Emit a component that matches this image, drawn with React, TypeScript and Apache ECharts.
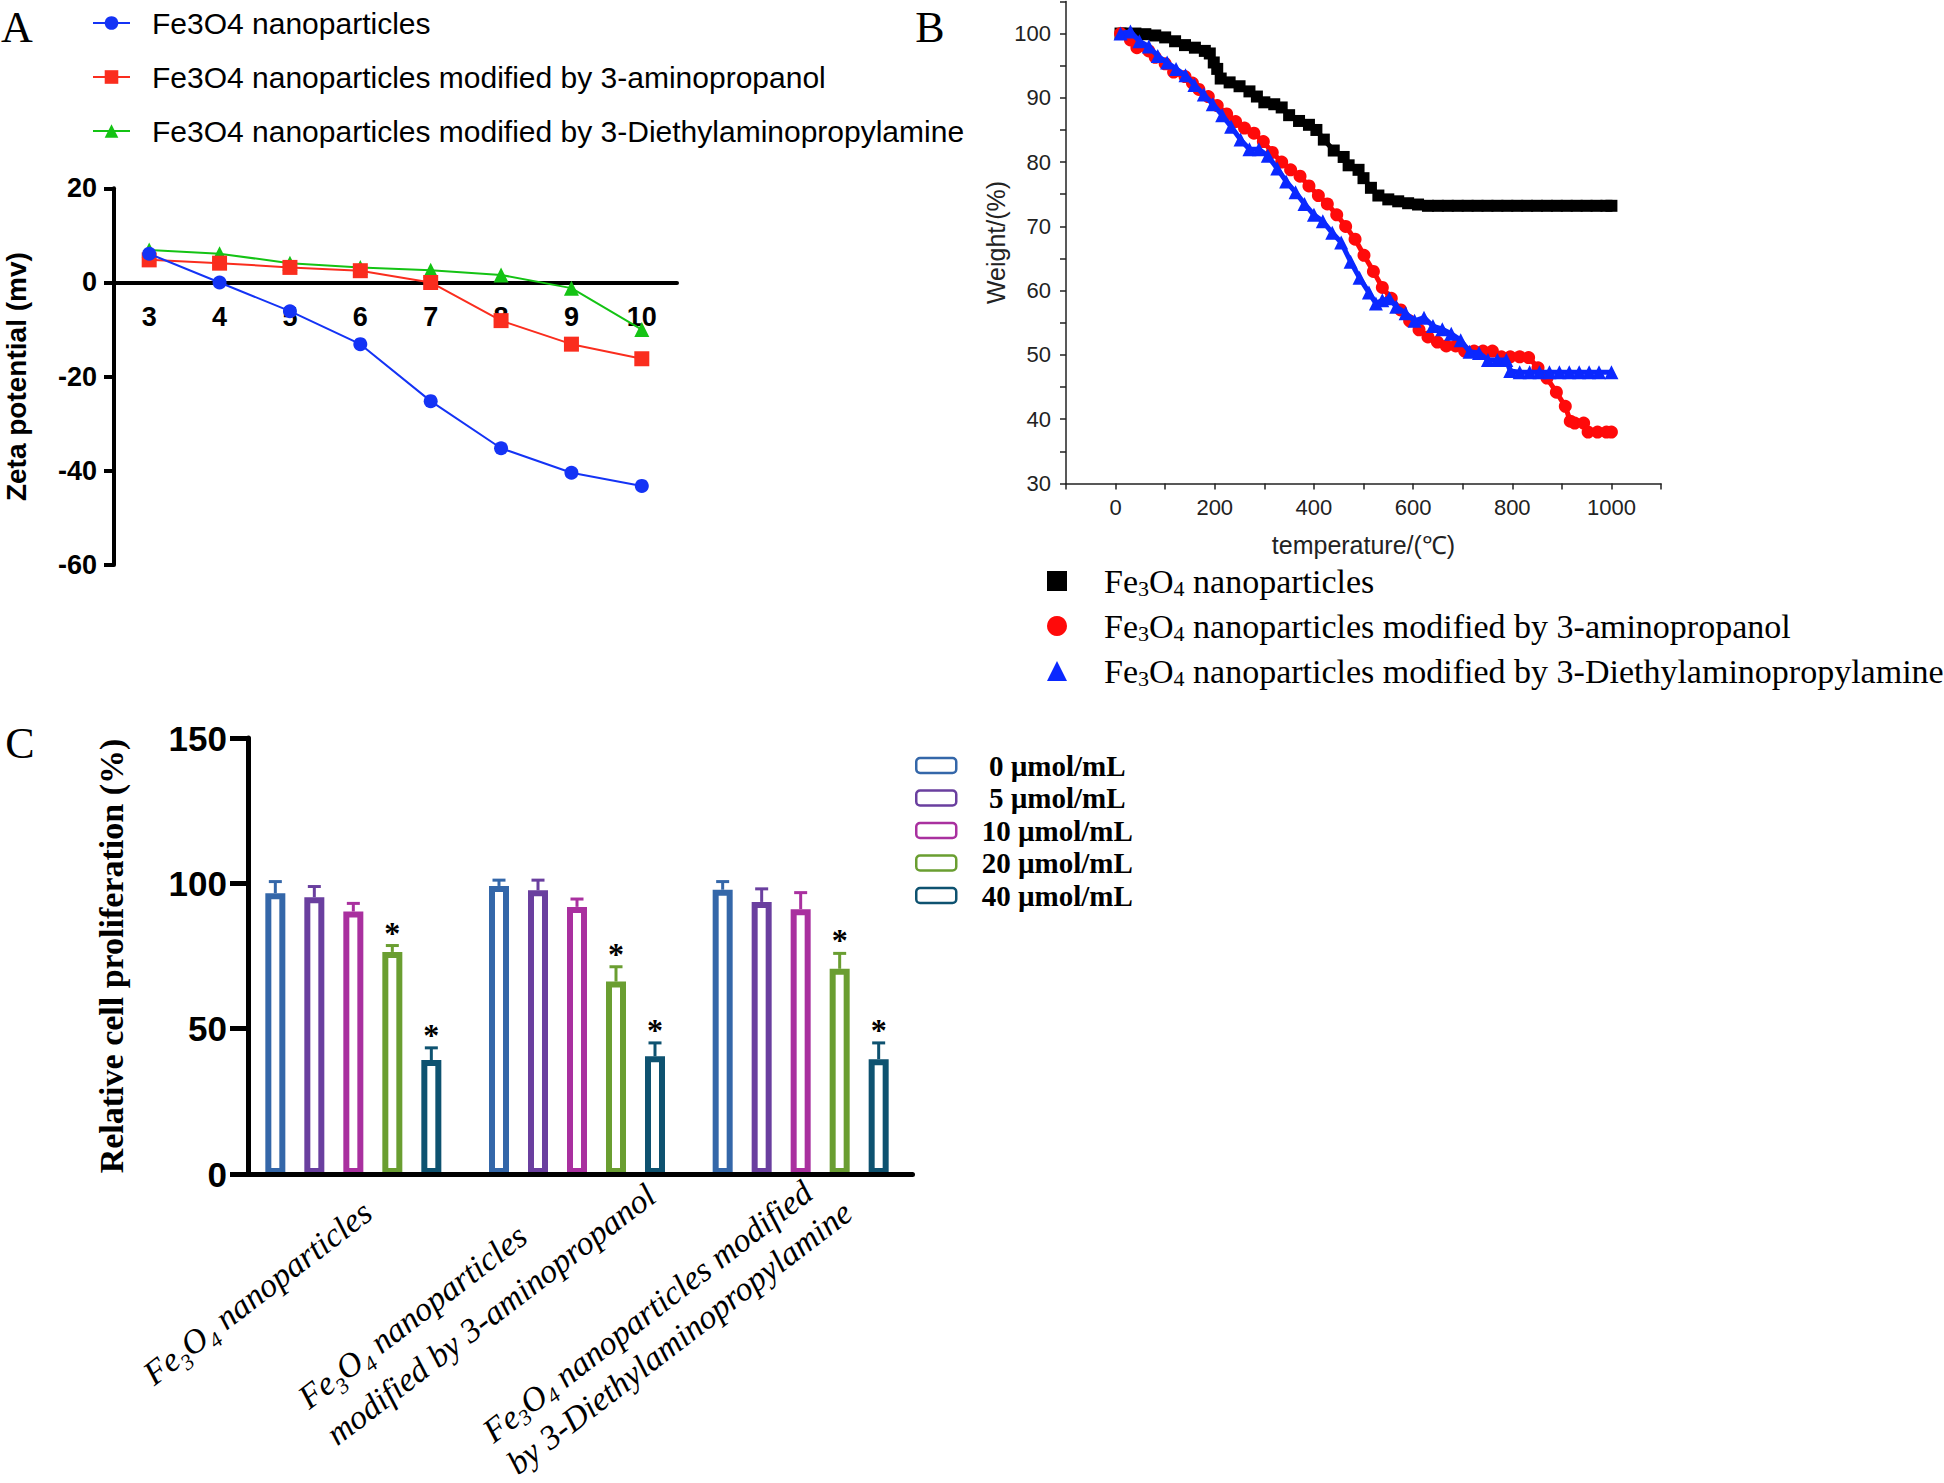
import React, { useEffect, useRef } from 'react';
import * as echarts from 'echarts';

// ---------------- Panel A: zeta potential vs pH ----------------
const phLabels = ['3', '4', '5', '6', '7', '8', '9', '10'];
const zetaBare = [6.1, 0, -6.1, -13.1, -25.2, -35.2, -40.4, -43.2];
const zetaAminopropanol = [4.8, 4.1, 3.2, 2.5, 0, -8.1, -13.1, -16.2];
const zetaDiethyl = [6.9, 6.1, 4.1, 3.2, 2.6, 1.6, -1.2, -10.0];
const zetaNames = [
  'Fe3O4 nanoparticles',
  'Fe3O4 nanoparticles modified by 3-aminopropanol',
  'Fe3O4 nanoparticles modified by 3-Diethylaminopropylamine',
];

// ---------------- Panel B: TGA ----------------
const tgaBareTemp = [10, 20, 40, 60, 80, 100, 120, 140, 160, 180, 190, 198, 205, 212, 230, 250, 270, 285, 300, 320, 335, 350, 370, 390, 405, 420, 440, 460, 470, 490, 500, 515, 530, 550, 570, 590, 610, 630, 650, 670, 690, 710, 730, 750, 770, 790, 810, 830, 850, 870, 890, 910, 930, 950, 970, 990, 1000];
const tgaBareWeight = [100, 100, 100, 99.9, 99.7, 99.4, 98.8, 98.2, 97.8, 97.3, 96.9, 95.5, 94.5, 93.0, 92.4, 91.8, 91.0, 90.2, 89.3, 89.0, 88.5, 87.3, 86.4, 85.8, 85.0, 83.5, 81.8, 80.8, 79.5, 78.8, 77.5, 76.0, 74.8, 74.2, 73.9, 73.6, 73.4, 73.2, 73.2, 73.2, 73.2, 73.2, 73.2, 73.2, 73.2, 73.2, 73.2, 73.2, 73.2, 73.2, 73.2, 73.2, 73.2, 73.2, 73.2, 73.2, 73.2];

const tgaAminoTemp = [10, 30, 43, 67, 80, 100, 117, 140, 155, 168, 187, 205, 224, 242, 260, 279, 298, 316, 335, 353, 372, 390, 409, 427, 446, 464, 483, 501, 520, 538, 556, 575, 593, 612, 630, 649, 667, 686, 704, 723, 741, 760, 778, 796, 815, 833, 852, 870, 889, 907, 917, 926, 944, 953, 972, 990, 1000];
const tgaAminoWeight = [100, 99.0, 97.8, 97.3, 96.3, 95.3, 94.0, 93.3, 92.3, 91.3, 90.2, 88.8, 87.5, 86.3, 85.3, 84.5, 83.2, 81.5, 80.0, 78.8, 77.8, 76.3, 74.8, 73.5, 71.8, 70.0, 68.0, 65.5, 63.0, 60.5, 58.8, 57.0, 55.3, 53.9, 52.8, 52.0, 51.4, 51.4, 50.6, 50.6, 50.6, 50.6, 49.7, 49.7, 49.7, 49.6, 48.0, 46.4, 44.2, 42.0, 39.7, 39.4, 39.4, 38.0, 38.0, 38.0, 38.0];

const tgaDiethylTemp = [10, 30, 48, 67, 85, 104, 122, 141, 159, 178, 196, 215, 233, 252, 270, 289, 307, 326, 344, 363, 381, 400, 418, 437, 455, 474, 492, 511, 525, 538, 552, 566, 585, 603, 622, 640, 659, 677, 696, 714, 733, 751, 770, 788, 796, 815, 835, 855, 875, 895, 915, 935, 955, 975, 1000];
const tgaDiethylWeight = [100, 100.3, 98.8, 98.0, 96.5, 95.5, 94.5, 93.5, 92.0, 90.5, 89.0, 87.3, 85.5, 83.5, 82.0, 82.0, 81.0, 79.0, 77.0, 75.3, 73.5, 71.8, 70.8, 69.0, 67.5, 64.5, 62.0, 59.7, 58.0, 58.5, 58.8, 57.5, 56.5, 55.3, 55.8, 54.5, 54.0, 53.3, 52.3, 50.5, 50.3, 49.2, 49.2, 49.2, 47.5, 47.3, 47.3, 47.3, 47.3, 47.3, 47.3, 47.3, 47.3, 47.3, 47.3];

const tgaNames = [
  'Fe₃O₄ nanoparticles',
  'Fe₃O₄ nanoparticles modified by 3-aminopropanol',
  'Fe₃O₄ nanoparticles modified by 3-Diethylaminopropylamine',
];

// ---------------- Panel C: cell proliferation ----------------
const cellGroups = [
  'Fe₃O₄ nanoparticles',
  'Fe₃O₄ nanoparticles modified by 3-aminopropanol',
  'Fe₃O₄ nanoparticles modified by 3-Diethylaminopropylamine',
];
const concNames = ['0 µmol/mL', '5 µmol/mL', '10 µmol/mL', '20 µmol/mL', '40 µmol/mL'];
const prolif0 = [96.6, 99.1, 97.8];
const prolif5 = [95.2, 97.6, 93.6];
const prolif10 = [90.3, 91.9, 91.1];
const prolif20 = [76.4, 66.2, 70.6];
const prolif40 = [39.2, 40.5, 39.5];
const err0 = [4.0, 2.0, 2.8];
const err5 = [3.7, 3.5, 4.5];
const err10 = [2.8, 2.7, 5.7];
const err20 = [2.2, 5.1, 5.3];
const err40 = [4.2, 4.6, 5.6];
const significant = [false, false, false, true, true];

const SANS = "'Liberation Sans', Arial, Helvetica, sans-serif";
const NARROW = "'Liberation Sans Narrow', 'Arial Narrow', 'Liberation Sans', Arial, sans-serif";
const SERIF = "'Liberation Serif', 'Times New Roman', Times, serif";

const BLUE = '#1433f5';
const RED = '#fa2d1e';
const GREEN = '#14c314';
const concColors = ['#3467a9', '#6a3f9f', '#a9309f', '#6a9e31', '#0e5270'];

const BAR_W = 20;
const BAR_STEP = 39;

export default function App() {
  const ref = useRef<HTMLDivElement>(null);

  useEffect(() => {
    if (!ref.current) return;
    const chart = echarts.init(ref.current, undefined, { renderer: 'svg' });

    const means = [prolif0, prolif5, prolif10, prolif20, prolif40];
    const errs = [err0, err5, err10, err20, err40];

    const feRich = (name: string, first: string, rest: string) => {
      const tail = name.replace('Fe₃O₄', '');
      return `{${first}|Fe}{s|3}{${rest}|O}{s|4}{${rest}|${tail}}`;
    };

    const cLabelRich = [
      '{a|Fe}{s|3}{a|O}{s|4}{e1| nanoparticles}',
      '{a|Fe}{s|3}{a|O}{s|4}{a| nanoparticles}\n{e2|modified by 3-aminopropanol}',
      '{a3|Fe}{s3|3}{a3|O}{s3|4}{e3| nanoparticles modified}\n{e3|by 3-Diethylaminopropylamine}',
    ];
    const cItal = { fontFamily: SERIF, fontStyle: 'italic', fontSize: 34, lineHeight: 46, align: 'left', color: '#000' };
    const cItal3 = { ...cItal, lineHeight: 40 };

    const zetaData = [zetaBare, zetaAminopropanol, zetaDiethyl];
    const zetaColors = [BLUE, RED, GREEN];
    const zetaSymbols = ['circle', 'rect', 'triangle'];
    const zetaSizes = [14, 15, 15];
    const zetaZ = [5, 4, 3];

    const tgaData = [
      tgaBareTemp.map((t, i) => [t, tgaBareWeight[i]]),
      tgaAminoTemp.map((t, i) => [t, tgaAminoWeight[i]]),
      tgaDiethylTemp.map((t, i) => [t, tgaDiethylWeight[i]]),
    ];
    const tgaColors = ['#000000', '#ff0a0a', '#0a28ff'];
    const tgaSymbols = ['rect', 'circle', 'triangle'];
    const tgaSizes = [12, 13, 14];

    const series: any[] = [];
    zetaData.forEach((d, k) => {
      series.push({
        type: 'line', name: zetaNames[k], xAxisIndex: 0, yAxisIndex: 0, data: d,
        symbol: zetaSymbols[k], symbolSize: zetaSizes[k], z: zetaZ[k],
        itemStyle: { color: zetaColors[k] }, lineStyle: { color: zetaColors[k], width: 2 },
      });
    });
    tgaData.forEach((d, k) => {
      series.push({
        type: 'line', name: tgaNames[k], xAxisIndex: 1, yAxisIndex: 1, data: d,
        symbol: tgaSymbols[k], symbolSize: tgaSizes[k], showAllSymbol: true, z: 2 + k,
        itemStyle: { color: tgaColors[k] }, lineStyle: { color: tgaColors[k], width: 5 },
      });
    });
    means.forEach((m, k) => {
      series.push({
        type: 'bar', name: concNames[k], xAxisIndex: 2, yAxisIndex: 2, data: m,
        barWidth: BAR_W, barGap: '95%',
        itemStyle: { color: '#ffffff', borderColor: concColors[k], borderWidth: 6 },
      });
    });
    means.forEach((m, k) => {
      series.push({
        type: 'custom', name: 'err' + k, xAxisIndex: 2, yAxisIndex: 2, z: 4,
        data: m.map((v, i) => [i, v, errs[k][i]]),
        renderItem: (params: any, api: any) => {
          const i = api.value(0);
          const v = api.value(1);
          const e = api.value(2);
          const p0 = api.coord([i, v]);
          const p1 = api.coord([i, v + e]);
          const x = p0[0] + (k - 2) * BAR_STEP;
          const stroke = concColors[k];
          const children: any[] = [
            { type: 'line', shape: { x1: x, y1: p0[1], x2: x, y2: p1[1] }, style: { stroke, lineWidth: 3 } },
            { type: 'line', shape: { x1: x - 6.5, y1: p1[1], x2: x + 6.5, y2: p1[1] }, style: { stroke, lineWidth: 3 } },
          ];
          if (significant[k]) {
            children.push({
              type: 'text', x, y: p1[1] - 13,
              style: { text: '*', fontSize: 32, fontWeight: 'bold', fontFamily: SERIF, fill: '#000', align: 'center', verticalAlign: 'middle' },
            });
          }
          return { type: 'group', children };
        },
      });
    });

    const option: any = {
      animation: false,
      backgroundColor: '#ffffff',
      grid: [
        { left: 114, top: 188.3, width: 563, height: 376.7, outerBoundsMode: 'none', containLabel: false },
        { left: 1066, top: 1.4, width: 595, height: 482.1, outerBoundsMode: 'none', containLabel: false },
        { left: 241.5, top: 738, width: 671, height: 436, outerBoundsMode: 'none', containLabel: false },
        // upper half of panel A: its bottom edge is the zero line, where the pH axis sits
        { left: 114, top: 188.3, width: 563, height: 94.2, outerBoundsMode: 'none', containLabel: false },
      ],
      xAxis: [
        { type: 'category', gridIndex: 0, data: phLabels, boundaryGap: true, show: false },
        {
          type: 'value', gridIndex: 1, min: -100, max: 1100, interval: 100,
          name: 'temperature/(℃)', nameLocation: 'middle', nameGap: 49,
          nameTextStyle: { fontFamily: NARROW, fontSize: 25, color: '#222' },
          axisLine: { onZero: false, lineStyle: { color: '#222', width: 1.5 } },
          axisTick: { show: true, length: 6, lineStyle: { color: '#222', width: 1.5 } },
          axisLabel: {
            margin: 13, color: '#222', fontFamily: NARROW, fontSize: 22,
            formatter: (v: number) => (v >= 0 && v <= 1000 && v % 200 === 0 ? String(v) : ''),
          },
          splitLine: { show: false },
        },
        {
          type: 'category', gridIndex: 2, data: cellGroups, boundaryGap: true, z: 5,
          axisLine: { lineStyle: { color: '#000', width: 5 } },
          axisTick: { alignWithLabel: true, length: 19, lineStyle: { color: '#000', width: 5 } },
          axisLabel: {
            interval: 0, rotate: 37.5, margin: 45,
            formatter: (_v: string, idx: number) => cLabelRich[idx],
            rich: {
              a: { ...cItal },
              s: { ...cItal, fontSize: 22, lineHeight: 30, verticalAlign: 'bottom' },
              a3: { ...cItal3 },
              s3: { ...cItal3, fontSize: 22, lineHeight: 26, verticalAlign: 'bottom' },
              e1: { ...cItal, padding: [0, -18, 0, 0] },
              e2: { ...cItal, padding: [0, -76, 0, 0] },
              e3: { ...cItal3, padding: [0, -44, 0, 0] },
            },
          },
        },
        {
          type: 'category', gridIndex: 3, data: phLabels, boundaryGap: true,
          axisLine: { onZero: false, lineStyle: { color: '#000', width: 4 } },
          axisTick: { alignWithLabel: true, length: 12, lineStyle: { color: '#000', width: 4 } },
          axisLabel: { margin: 21, color: '#000', fontFamily: SANS, fontWeight: 'bold', fontSize: 27 },
          splitLine: { show: false },
        },
      ],
      yAxis: [
        {
          type: 'value', gridIndex: 0, min: -60, max: 20, interval: 20,
          name: 'Zeta potential (mv)', nameLocation: 'middle', nameGap: 84,
          nameTextStyle: { fontFamily: SANS, fontWeight: 'bold', fontSize: 28, color: '#000' },
          axisLine: { show: true, onZero: false, lineStyle: { color: '#000', width: 4 } },
          axisTick: { show: true, length: 10, lineStyle: { color: '#000', width: 4 } },
          axisLabel: { margin: 17, color: '#000', fontFamily: SANS, fontWeight: 'bold', fontSize: 27 },
          splitLine: { show: false },
        },
        {
          type: 'value', gridIndex: 1, min: 30, max: 105, interval: 5,
          name: 'Weight/(%)', nameLocation: 'middle', nameGap: 58,
          nameTextStyle: { fontFamily: NARROW, fontSize: 25, color: '#222' },
          axisLine: { show: true, onZero: false, lineStyle: { color: '#222', width: 1.5 } },
          axisTick: { show: true, length: 6, lineStyle: { color: '#222', width: 1.5 } },
          axisLabel: {
            margin: 15, color: '#222', fontFamily: NARROW, fontSize: 22,
            formatter: (v: number) => (v % 10 === 0 && v <= 100 ? String(v) : ''),
          },
          splitLine: { show: false },
        },
        {
          type: 'value', gridIndex: 2, min: 0, max: 150, interval: 50, offset: -6.5,
          name: 'Relative cell proliferation (%)', nameLocation: 'middle', nameGap: 120,
          nameTextStyle: { fontFamily: SERIF, fontWeight: 'bold', fontSize: 34, color: '#000' },
          axisLine: { show: true, onZero: false, lineStyle: { color: '#000', width: 5 } },
          axisTick: { show: true, length: 18, lineStyle: { color: '#000', width: 5 } },
          axisLabel: { margin: 21, color: '#000', fontFamily: SANS, fontWeight: 'bold', fontSize: 35 },
          splitLine: { show: false },
        },
        { type: 'value', gridIndex: 3, min: 0, max: 20, show: false },
      ],
      legend: [
        {
          orient: 'vertical', left: 87, top: 3, itemWidth: 37, itemHeight: 17, itemGap: 24,
          data: zetaNames, selectedMode: false,
          formatter: (n: string) => `{t|${n}}`,
          textStyle: { rich: { t: { fontFamily: SANS, fontSize: 30, lineHeight: 29, color: '#000', padding: [0, 0, 0, 17] } } },
        },
        {
          orient: 'vertical', left: 1042, top: 559, itemWidth: 20, itemHeight: 20, itemGap: 10,
          selectedMode: false,
          data: [
            { name: tgaNames[0], icon: 'rect' },
            { name: tgaNames[1], icon: 'circle' },
            { name: tgaNames[2], icon: 'triangle' },
          ],
          formatter: (n: string) => feRich(n, 'f', 'n'),
          textStyle: {
            rich: {
              f: { fontFamily: SERIF, fontSize: 34, lineHeight: 36, color: '#000', padding: [0, 0, 0, 32] },
              n: { fontFamily: SERIF, fontSize: 34, lineHeight: 36, color: '#000' },
              s: { fontFamily: SERIF, fontSize: 22, lineHeight: 22, color: '#000', verticalAlign: 'bottom' },
            },
          },
        },
        {
          orient: 'vertical', left: 910, top: 746, itemWidth: 40, itemHeight: 15, itemGap: 3.5,
          selectedMode: false, data: concNames,
          itemStyle: { borderWidth: 2.5 },
          formatter: (n: string) => `{c|${n}}`,
          textStyle: {
            rich: { c: { width: 192, align: 'center', fontFamily: SERIF, fontWeight: 'bold', fontSize: 29, lineHeight: 30, color: '#000' } },
          },
        },
      ],
      graphic: [
        { type: 'text', x: 17, y: 27, style: { text: 'A', fontFamily: SERIF, fontSize: 44, fill: '#000', align: 'center', verticalAlign: 'middle' } },
        { type: 'text', x: 930, y: 27, style: { text: 'B', fontFamily: SERIF, fontSize: 44, fill: '#000', align: 'center', verticalAlign: 'middle' } },
        { type: 'text', x: 20, y: 743, style: { text: 'C', fontFamily: SERIF, fontSize: 44, fill: '#000', align: 'center', verticalAlign: 'middle' } },
      ],
      series,
    };

    chart.setOption(option);
    return () => chart.dispose();
  }, []);

  return (
    <div
      ref={ref}
      style={{ position: 'fixed', left: 0, top: 0, width: 1944, height: 1483, background: '#ffffff' }}
    />
  );
}
